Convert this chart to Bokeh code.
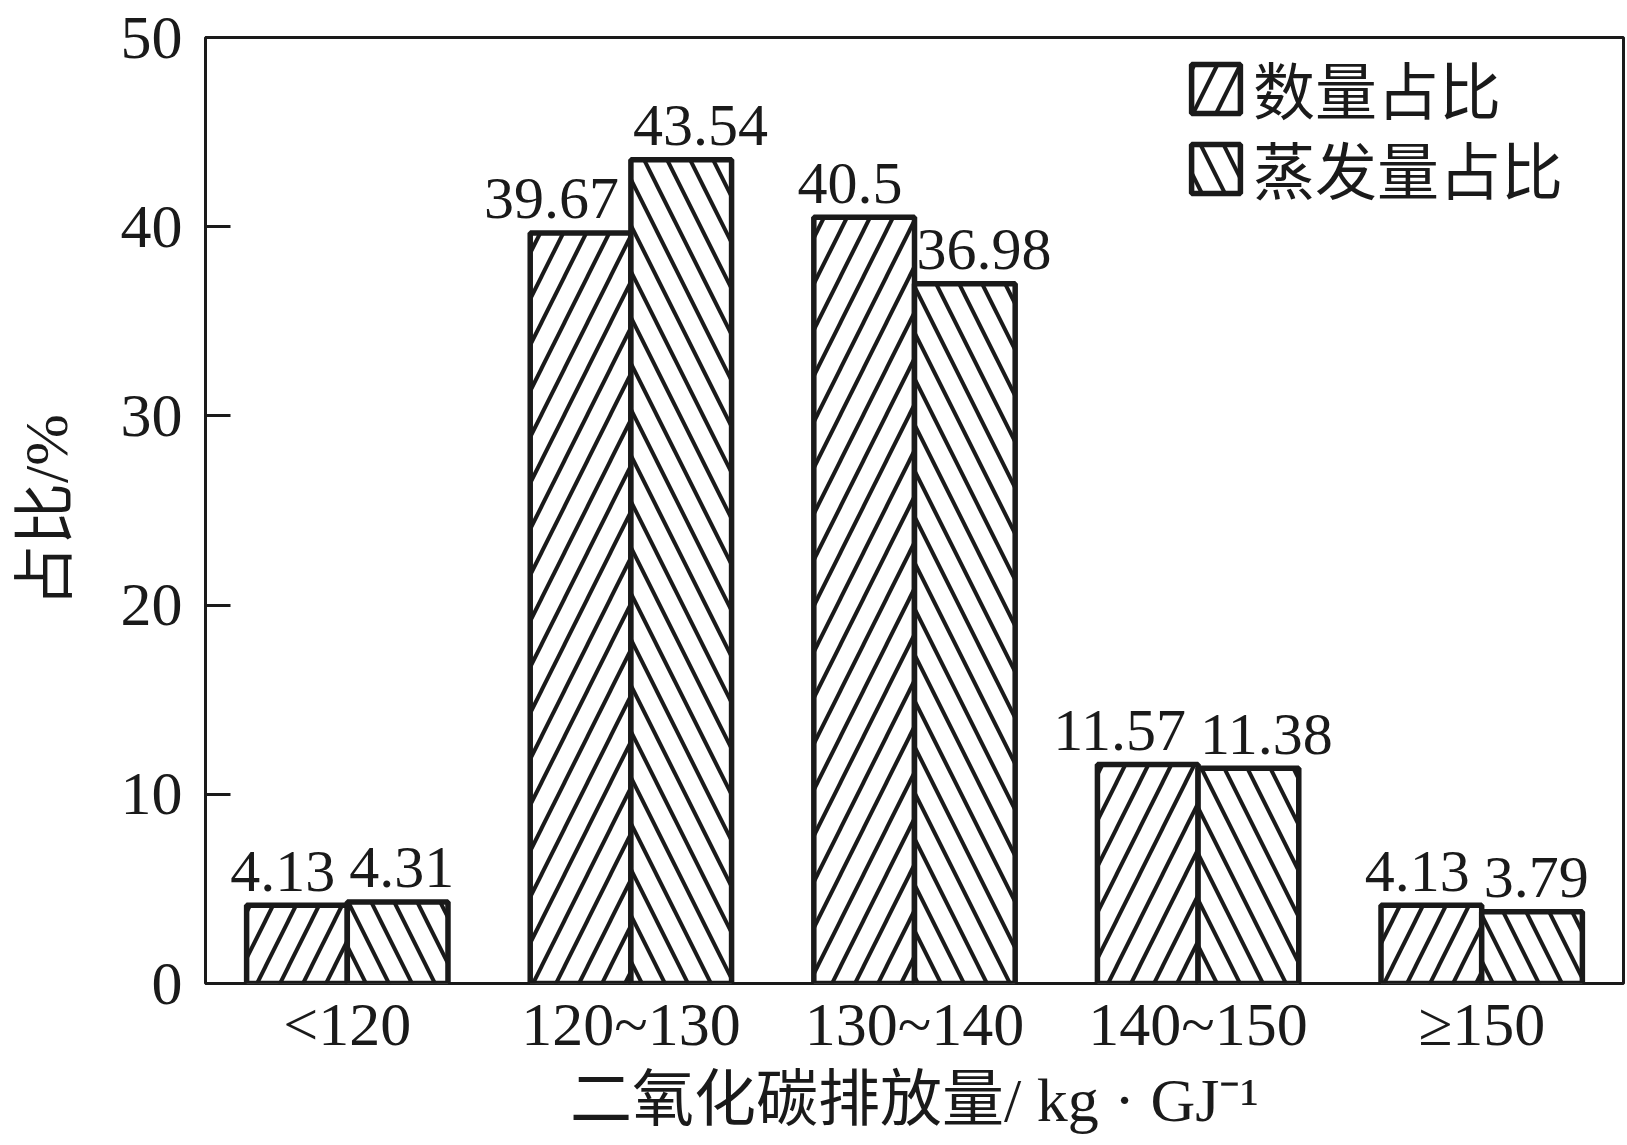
from bokeh.plotting import figure
from bokeh.models import (ColumnDataSource, FactorRange, Range1d, FixedTicker,
                          Legend, LegendItem)
from bokeh.transform import dodge
from bokeh.core.properties import value
from bokeh.embed import file_html
from bokeh.resources import INLINE

categories = ["<120", "120~130", "130~140", "140~150", "≥150"]
count_share = [4.13, 39.67, 40.5, 11.57, 4.13]
evap_share = [4.31, 43.54, 36.98, 11.38, 3.79]
count_labels = ["4.13", "39.67", "40.5", "11.57", "4.13"]
evap_labels = ["4.31", "43.54", "36.98", "11.38", "3.79"]
y_ticks = [0, 10, 20, 30, 40, 50]
series_names = ["数量占比", "蒸发量占比"]

FONT = "'Liberation Serif', 'Noto Sans CJK SC'"
INK = "#1a1a1a"

src = ColumnDataSource(dict(cat=categories, a=count_share, b=evap_share,
                            la=count_labels, lb=evap_labels))

p = figure(width=1625, height=1143, x_range=FactorRange(*categories),
           y_range=Range1d(0, 50), output_backend="svg", toolbar_location=None,
           min_border_left=205, min_border_top=37, min_border_bottom=160,
           min_border_right=2)
p.background_fill_color = "white"
p.border_fill_color = "white"
p.outline_line_color = INK
p.outline_line_width = 3
p.xgrid.visible = False
p.ygrid.visible = False

bw = 0.355
bar_style = dict(fill_color="white", line_color=INK, line_width=5.5,
                 hatch_color=INK, hatch_scale=46, hatch_weight=4)
r1 = p.vbar(x=dodge("cat", -bw / 2, range=p.x_range), top="a", width=bw, source=src,
            hatch_pattern="/", **bar_style)
r2 = p.vbar(x=dodge("cat", bw / 2, range=p.x_range), top="b", width=bw, source=src,
            hatch_pattern="\\", **bar_style)

p.text(x="cat", y="a", text="la", source=src, text_align="right",
       text_baseline="alphabetic", x_offset=-12, y_offset=-34,
       text_font=value("Liberation Serif"), text_font_size="60px", text_color=INK)
p.text(x="cat", y="b", text="lb", source=src, text_align="left",
       text_baseline="alphabetic", x_offset=2, y_offset=-34,
       text_font=value("Liberation Serif"), text_font_size="60px", text_color=INK)

# axes
for ax in (p.xaxis[0], p.yaxis[0]):
    ax.axis_line_color = None
    ax.major_label_text_font = FONT
    ax.major_label_text_font_size = "62px"
    ax.major_label_text_color = INK
    ax.axis_label_text_font = FONT
    ax.axis_label_text_font_style = "normal"
    ax.axis_label_text_color = INK
    ax.minor_tick_line_color = None

p.xaxis.major_tick_line_color = None
p.xaxis.major_label_standoff = 0
p.xaxis.axis_label = "二氧化碳排放量/ kg · GJ⁻¹"
p.xaxis.axis_label_text_font_size = "62px"
p.xaxis.axis_label_standoff = 5

p.yaxis.ticker = FixedTicker(ticks=y_ticks)
p.yaxis.major_tick_in = 25
p.yaxis.major_tick_out = 0
p.yaxis.major_tick_line_width = 3
p.yaxis.major_tick_line_color = INK
p.yaxis.major_label_standoff = 23
p.yaxis.axis_label = "占比/%"
p.yaxis.axis_label_text_font_size = "62px"
p.yaxis.axis_label_standoff = 38

legend_style = dict(padding=0, margin=0, spacing=0,
                    glyph_width=61, glyph_height=61, label_standoff=7,
                    label_text_font=FONT, label_text_font_size="62px",
                    label_text_color=INK,
                    border_line_color=None, background_fill_alpha=0)
leg1 = Legend(items=[LegendItem(label=series_names[0], renderers=[r1])],
              location=(980, 850), **legend_style)
leg2 = Legend(items=[LegendItem(label=series_names[1], renderers=[r2])],
              location=(980, 770), **legend_style)
p.add_layout(leg1)
p.add_layout(leg2)

open("out.html", "w").write(file_html(p, INLINE))
